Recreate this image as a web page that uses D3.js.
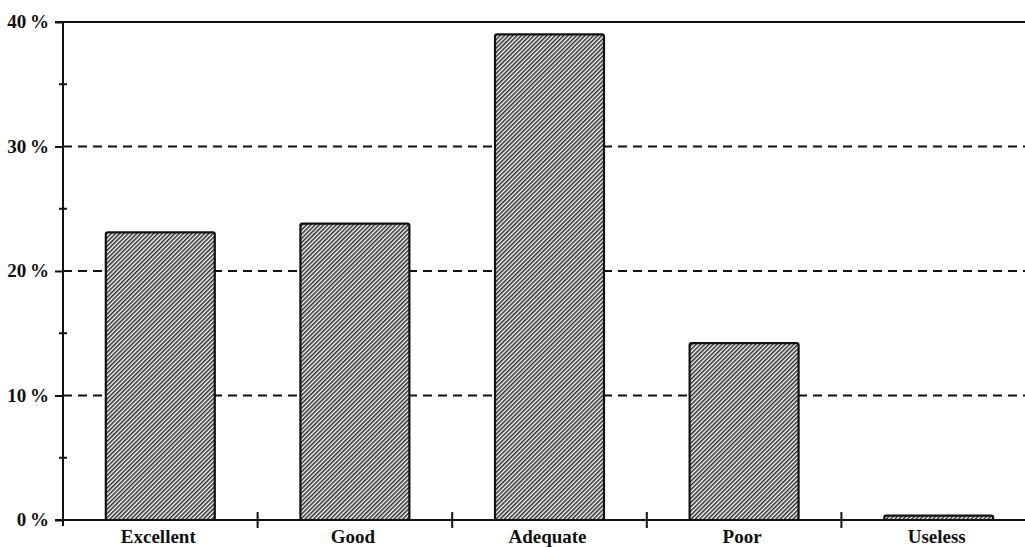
<!DOCTYPE html>
<html>
<head>
<meta charset="utf-8">
<script src="https://cdn.jsdelivr.net/npm/d3@7"></script>
<style>
  body { margin: 0; background: #fff; }
  text { font-family: "Liberation Serif", "Times New Roman", serif; font-weight: bold; fill: #111; }
</style>
</head>
<body>
<svg id="svg1" width="1025" height="547"></svg>
<script>
var categories = ["Excellent", "Good", "Adequate", "Poor", "Useless"];
var valeurs = [23.1, 23.8, 39.0, 14.2, 0.35];
var grandsTicks = [0, 10, 20, 30, 40];
var petitsTicks = [5, 15, 25, 35];
var grilles = [10, 20, 30];

var largeur = 1025;
var marge = {haut: 22, droite: 0, bas: 27, gauche: 63};
var basY = 547 - marge.bas;

var svg = d3.select("#svg1");

var x = d3.scaleBand()
    .domain(categories)
    .range([marge.gauche, 1036])
    .padding(0);

var y = d3.scaleLinear()
    .domain([0, 40])
    .range([basY, marge.haut]);

// hachures
var defs = svg.append("defs");
var motif = defs.append("pattern")
    .attr("id", "hachure")
    .attr("patternUnits", "userSpaceOnUse")
    .attr("width", 3)
    .attr("height", 3)
    .attr("patternTransform", "rotate(45)");
motif.append("rect").attr("width", 3).attr("height", 3).attr("fill", "#fff");
motif.append("line")
    .attr("x1", 0.8).attr("y1", 0).attr("x2", 0.8).attr("y2", 3)
    .style("stroke", "#222").style("stroke-width", 1.5);

// grilles pointillees
svg.selectAll(".grille")
    .data(grilles)
    .enter()
    .append("line")
    .attr("class", "grille")
    .attr("x1", marge.gauche).attr("x2", largeur)
    .attr("y1", d => y(d)).attr("y2", d => y(d))
    .style("stroke", "#111")
    .style("stroke-width", 2)
    .style("stroke-dasharray", "9,6");

// ligne du haut
svg.append("line")
    .attr("x1", 55).attr("x2", largeur)
    .attr("y1", y(40)).attr("y2", y(40))
    .style("stroke", "#111").style("stroke-width", 2);

// barres
var largeurBarre = x.bandwidth() * 0.56;
svg.selectAll(".barre")
    .data(valeurs)
    .enter()
    .append("rect")
    .attr("class", "barre")
    .attr("x", (d, i) => x(categories[i]) + (x.bandwidth() - largeurBarre) / 2)
    .attr("width", largeurBarre)
    .attr("y", d => y(d))
    .attr("height", d => basY - y(d))
    .attr("rx", 2)
    .style("fill", "url(#hachure)")
    .style("stroke", "#111")
    .style("stroke-width", 2.2);

// axe Y
var axeY = d3.axisLeft(y)
    .tickValues(grandsTicks)
    .tickSize(8)
    .tickPadding(6)
    .tickFormat(d => d + "\u2009%");
var gY = svg.append("g")
    .attr("transform", "translate(" + marge.gauche + ",0)")
    .call(axeY);
gY.select(".domain").remove();
gY.selectAll(".tick line").style("stroke", "#111").style("stroke-width", 2);
gY.selectAll(".tick text")
    .style("font-size", "19px")
    .style("font-family", "'Liberation Serif', serif")
    .attr("dy", "0.3em");

svg.append("line")
    .attr("x1", marge.gauche).attr("x2", marge.gauche)
    .attr("y1", y(40) - 1).attr("y2", basY + 6)
    .style("stroke", "#111").style("stroke-width", 2);

svg.selectAll(".petit")
    .data(petitsTicks)
    .enter()
    .append("line")
    .attr("class", "petit")
    .attr("x1", marge.gauche - 4).attr("x2", marge.gauche + 4)
    .attr("y1", d => y(d)).attr("y2", d => y(d))
    .style("stroke", "#111").style("stroke-width", 2);

// axe X
svg.append("line")
    .attr("x1", 55).attr("x2", largeur)
    .attr("y1", basY).attr("y2", basY)
    .style("stroke", "#111").style("stroke-width", 2);

svg.selectAll(".separation")
    .data(categories.slice(1))
    .enter()
    .append("line")
    .attr("class", "separation")
    .attr("x1", d => x(d)).attr("x2", d => x(d))
    .attr("y1", basY - 8).attr("y2", basY + 8)
    .style("stroke", "#111").style("stroke-width", 2);

svg.selectAll(".etiquette")
    .data(categories)
    .enter()
    .append("text")
    .attr("class", "etiquette")
    .attr("x", d => x(d) + x.bandwidth() / 2 - 2)
    .attr("y", basY + 23)
    .attr("text-anchor", "middle")
    .style("font-size", "19px")
    .text(d => d);
</script>
</body>
</html>
